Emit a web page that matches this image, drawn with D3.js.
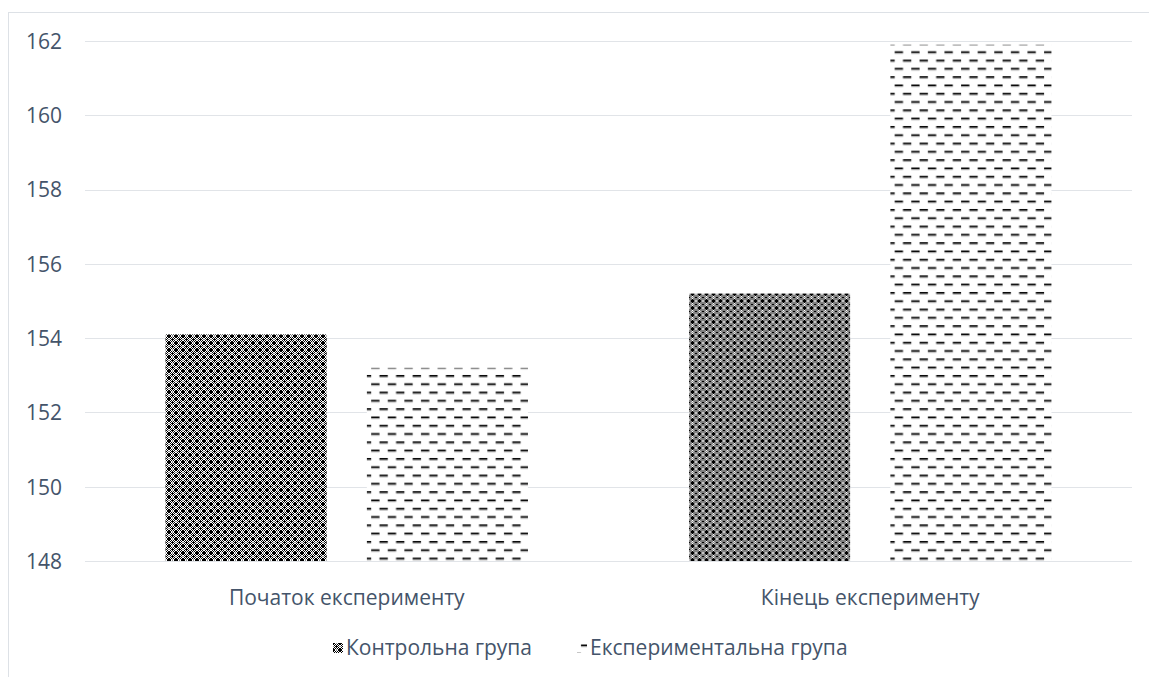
<!DOCTYPE html>
<html>
<head>
<meta charset="utf-8">
<script src="https://cdn.jsdelivr.net/npm/d3@7"></script>
<style>
  html, body { margin: 0; padding: 0; background: #fff; }
  svg { display: block; }
  text { font-family: "Open Sans", "Liberation Sans", sans-serif; fill: #44546A; }
</style>
</head>
<body>
<svg id="chart" width="1149" height="677"></svg>
<script>
// Chart data
const categories = ["Початок експерименту", "Кінець експерименту"];
const seriesNames = ["Контрольна група", "Експериментальна група"];
const controlValues = [154.1, 155.2];
const experimentalValues = [153.2, 161.9];
const yTicks = [148, 150, 152, 154, 156, 158, 160, 162];

const plot = { left: 85, right: 1132, top: 41, bottom: 561 };
const FONT = 21;

const svg = d3.select("#chart");
const defs = svg.append("defs");

// Lattice pattern for the control group (B = black, W = white, G = grey)
const tile = [
  "BBWGWBB",
  "BWBWBWB",
  "WBWBWBW",
  "GWBBBWG",
  "WBWBWBW",
  "BWBWBWB",
  "BBWGWBB"
];
const colorOf = { B: "#000", W: "#fff", G: "#8c8c8c" };
const p1 = defs.append("pattern")
  .attr("id", "patCheck").attr("patternUnits", "userSpaceOnUse")
  .attr("width", 7).attr("height", 7);
tile.forEach((row, r) => {
  row.split("").forEach((ch, c) => {
    p1.append("rect").attr("x", c).attr("y", r).attr("width", 1).attr("height", 1)
      .attr("fill", colorOf[ch]).attr("shape-rendering", "crispEdges");
  });
});

// Dashed horizontal pattern for the experimental group
const pw = 16.6, ph = 16.6;
const p2 = defs.append("pattern")
  .attr("id", "patDash").attr("patternUnits", "userSpaceOnUse")
  .attr("width", pw).attr("height", ph);
p2.append("rect").attr("width", pw).attr("height", ph).attr("fill", "#fff");
function dash(x, yy) {
  p2.append("rect").attr("x", x).attr("y", yy).attr("width", 8.3).attr("height", 1.7).attr("fill", "#000");
  p2.append("rect").attr("x", x).attr("y", yy + 1.7).attr("width", 8.3).attr("height", 0.9).attr("fill", "#9a9a9a");
}
dash(4, 1.5);
dash(12.3, 9.8);
dash(12.3 - pw, 9.8);

const fills = ["url(#patCheck)", "url(#patDash)"];

// Outer chart frame
svg.append("rect")
  .attr("x", 8.5).attr("y", 12.5).attr("width", 1200).attr("height", 700)
  .attr("fill", "none").attr("stroke", "#dde1e6").attr("stroke-width", 1);

const y = d3.scaleLinear().domain([148, 162]).range([plot.bottom, plot.top]);
const x0 = d3.scaleBand().domain(categories).range([plot.left, plot.right]).padding(0);
const x1 = d3.scaleBand().domain(seriesNames).range([0, x0.bandwidth()])
  .paddingInner(0.2).paddingOuter(0.4);

// Gridlines
svg.append("g").selectAll("line").data(yTicks).join("line")
  .attr("x1", plot.left).attr("x2", plot.right)
  .attr("y1", d => Math.round(y(d)) + 0.5).attr("y2", d => Math.round(y(d)) + 0.5)
  .attr("stroke", "#e1e4e8").attr("stroke-width", 1.2);

// Y axis labels
const yAxis = d3.axisLeft(y).tickValues(yTicks).tickSize(0).tickPadding(0);
const gy = svg.append("g").attr("transform", `translate(62,0)`).call(yAxis);
gy.select(".domain").remove();
gy.selectAll("text").attr("font-size", FONT).attr("fill", "#44546A")
  .style("font-family", '"Open Sans", sans-serif').attr("dy", "0.35em");

// Bars
const rows = categories.map((c, i) => ({ cat: c, vals: [controlValues[i], experimentalValues[i]] }));
const groups = svg.append("g").selectAll("g").data(rows).join("g")
  .attr("transform", d => `translate(${x0(d.cat)},0)`);
groups.selectAll("rect").data(d => d.vals.map((v, j) => ({ s: seriesNames[j], v, j })))
  .join("rect")
  .attr("x", d => x1(d.s)).attr("width", x1.bandwidth())
  .attr("y", d => y(d.v)).attr("height", d => y(148) - y(d.v))
  .attr("fill", d => fills[d.j]);

// Category axis labels
const xAxis = d3.axisBottom(x0).tickSize(0).tickPadding(0);
const gx = svg.append("g").attr("transform", `translate(0,${plot.bottom})`).call(xAxis);
gx.select(".domain").remove();
gx.selectAll("text").attr("font-size", FONT).attr("fill", "#44546A")
  .style("font-family", '"Open Sans", sans-serif').attr("y", 37).attr("dy", "0.35em");

// Legend
const legendItems = [
  { name: seriesNames[0], fill: fills[0], x: 333 },
  { name: seriesNames[1], fill: fills[1], x: 577 }
];
const lg = svg.append("g").selectAll("g").data(legendItems).join("g")
  .attr("transform", d => `translate(${d.x},643)`);
lg.append("rect").attr("width", 10).attr("height", 10).attr("fill", d => d.fill);
lg.append("text").attr("x", 13).attr("y", 5).attr("dy", "0.35em")
  .attr("font-size", FONT).text(d => d.name);
</script>
</body>
</html>
